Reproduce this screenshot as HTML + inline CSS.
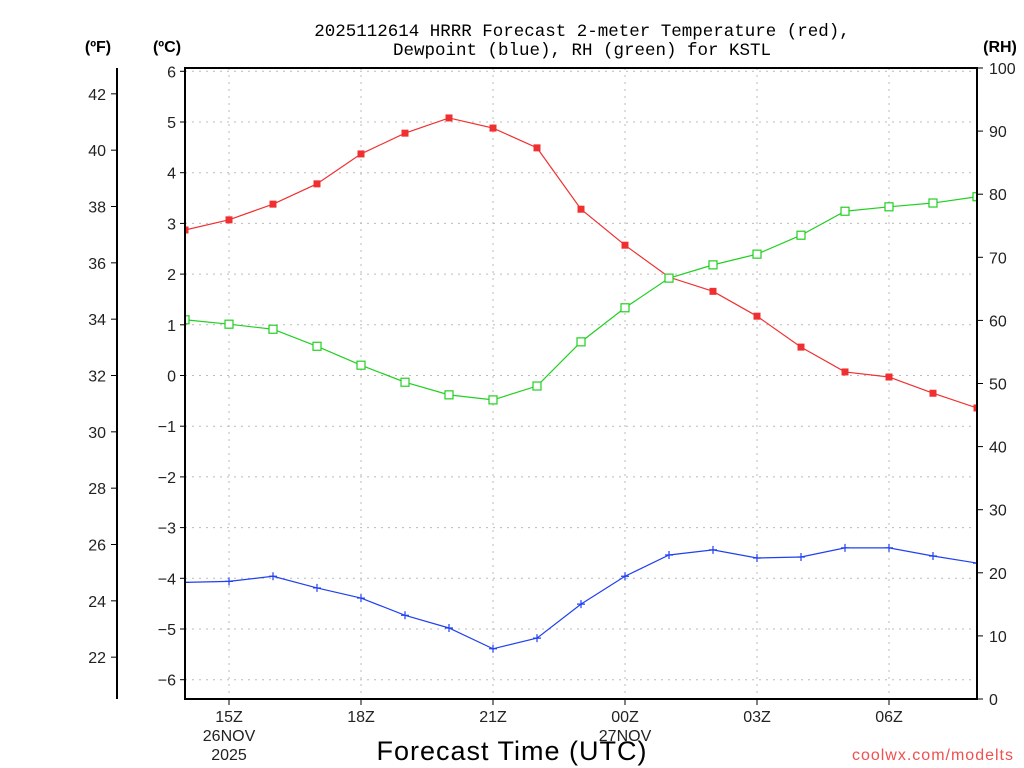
<!DOCTYPE html>
<html><head><meta charset="utf-8"><style>
body{margin:0;background:#fff;}
svg{display:block;font-family:"Liberation Sans",sans-serif;}
</style></head><body>
<svg id="c" width="1024" height="768" xmlns="http://www.w3.org/2000/svg">
<defs><clipPath id="pc"><rect x="185" y="68" width="792" height="631"/></clipPath></defs>
<g id="grid"></g>
<g id="series" clip-path="url(#pc)"></g>
<g id="axes"></g>
<text x="582" y="36" text-anchor="middle" font-size="17.5" font-family="Liberation Mono, monospace" fill="#000">2025112614 HRRR Forecast 2-meter Temperature (red),</text>
<text x="582" y="55" text-anchor="middle" font-size="17.5" font-family="Liberation Mono, monospace" fill="#000">Dewpoint (blue), RH (green) for KSTL</text>
<text x="98" y="52" text-anchor="middle" font-size="16" font-weight="bold">(ºF)</text>
<text x="167" y="52" text-anchor="middle" font-size="16" font-weight="bold">(ºC)</text>
<text x="1000" y="52" text-anchor="middle" font-size="16" font-weight="bold">(RH)</text>
<text x="512" y="760" text-anchor="middle" font-size="27" letter-spacing="1">Forecast Time (UTC)</text>
<text x="1014" y="760" text-anchor="end" font-size="16" fill="#f05050" letter-spacing="1">coolwx.com/modelts</text>
</svg>
<script>
const hours=[14,15,16,17,18,19,20,21,22,23,24,25,26,27,28,29,30,31,32];
const tempC=[2.87,3.07,3.38,3.78,4.37,4.78,5.08,4.88,4.49,3.28,2.57,1.94,1.66,1.17,0.56,0.07,-0.03,-0.35,-0.64];
const dewC=[-4.08,-4.06,-3.96,-4.19,-4.39,-4.73,-4.98,-5.39,-5.18,-4.51,-3.96,-3.54,-3.44,-3.60,-3.58,-3.40,-3.40,-3.56,-3.70];
const rh=[60.1,59.4,58.6,55.9,52.9,50.2,48.2,47.4,49.6,56.6,62.0,66.7,68.8,70.5,73.5,77.3,78.0,78.6,79.6];
const cTicks=[-6,-5,-4,-3,-2,-1,0,1,2,3,4,5,6];
const fTicks=[22,24,26,28,30,32,34,36,38,40,42];
const rhTicks=[0,10,20,30,40,50,60,70,80,90,100];
const xTickHours=[15,18,21,24,27,30];
const xTickLabels=["15Z","18Z","21Z","00Z","03Z","06Z"];
const L=185,R=977,T=68,B=699;
const x=h=>L+(h-14)*44;
const yC=c=>375.5-c*50.7;
const yF=f=>yC((f-32)*5/9);
const yRH=v=>B-v*(B-T)/100;
const NS="http://www.w3.org/2000/svg";
function mk(tag,attrs,parent,txt){const e=document.createElementNS(NS,tag);for(const k in attrs)e.setAttribute(k,attrs[k]);if(txt!==undefined)e.textContent=txt;parent.appendChild(e);return e;}
const grid=document.getElementById('grid'),axes=document.getElementById('axes'),series=document.getElementById('series');
cTicks.forEach(c=>{
 const l=mk('line',{x1:L,x2:R,y1:yC(c),y2:yC(c),stroke:'#bbb','stroke-dasharray':'2 5'},grid);
 
 
 const tk=mk('line',{x1:L-5,x2:L,y1:yC(c),y2:yC(c),stroke:'#000'},axes);
 
 
 const t=mk('text',{x:L-9,y:yC(c)+6,'text-anchor':'end','font-size':'16',fill:'#222'},axes,c<0?'\u2212'+(-c):String(c));
 
 
});
xTickHours.forEach((h,i)=>{
 const l=mk('line',{x1:x(h),x2:x(h),y1:T,y2:B,stroke:'#bbb','stroke-dasharray':'2 5'},grid);
 
 
 const tk=mk('line',{x1:x(h),x2:x(h),y1:B,y2:B+6,stroke:'#000'},axes);
 
 
 const t=mk('text',{x:x(h),y:B+23,'text-anchor':'middle','font-size':'16',fill:'#222'},axes,xTickLabels[i]);
 
 
});
[[15,"26NOV",741],[15,"2025",760],[24,"27NOV",741]].forEach(d=>{
 const t=mk('text',{x:x(d[0]),y:d[2],'text-anchor':'middle','font-size':'16',fill:'#222'},axes,d[1]);
 
 
});
const fa=mk('line',{x1:117,x2:117,y1:T,y2:B,stroke:'#000','stroke-width':2},axes);


fTicks.forEach(f=>{
 const tk=mk('line',{x1:111,x2:117,y1:yF(f),y2:yF(f),stroke:'#000'},axes);
 
 
 const t=mk('text',{x:106,y:yF(f)+6,'text-anchor':'end','font-size':'16',fill:'#222'},axes,String(f));
 
 
});
rhTicks.forEach(v=>{
 const tk=mk('line',{x1:R,x2:R+6,y1:yRH(v),y2:yRH(v),stroke:'#000'},axes);
 
 
 const t=mk('text',{x:R+12,y:yRH(v)+6,'text-anchor':'start','font-size':'16',fill:'#222'},axes,String(v));
 
 
});
const fr=mk('rect',{x:L,y:T,width:R-L,height:B-T,fill:'none',stroke:'#000','stroke-width':2},axes);


function line(vals,yf,color,name){
 const p=mk('polyline',{points:vals.map((v,i)=>x(hours[i])+','+yf(v)).join(' '),fill:'none',stroke:color,'stroke-width':1.2},series);
 
 
}
line(tempC,yC,'#f03030','temperature');
line(rh,yRH,'#20d020','rh');
line(dewC,yC,'#2040f0','dewpoint');
tempC.forEach((v,i)=>{
 const m=mk('rect',{x:x(hours[i])-3.5,y:yC(v)-3.5,width:7,height:7,fill:'#f03030'},series);
 
 
});
rh.forEach((v,i)=>{
 const m=mk('rect',{x:x(hours[i])-4,y:yRH(v)-4,width:8,height:8,fill:'#fff',stroke:'#20d020','stroke-width':1.2},series);
 
 
});
dewC.forEach((v,i)=>{
 const m=mk('path',{d:`M${x(hours[i])-4} ${yC(v)}h8M${x(hours[i])} ${yC(v)-4}v8`,stroke:'#2040f0','stroke-width':1.2},series);
 
 
});
</script>
</body></html>
